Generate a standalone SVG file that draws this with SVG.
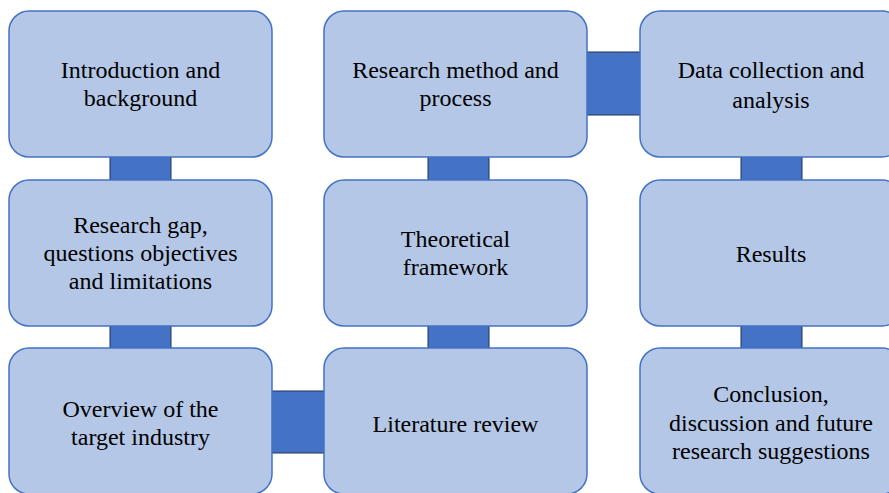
<svg xmlns="http://www.w3.org/2000/svg" width="889" height="493" viewBox="0 0 889 493">
<style>
.box{fill:#B4C7E7;stroke:#4472C4;stroke-width:1.5}
.conn{fill:#4472C4;stroke:#1F3256;stroke-width:1}
text{font-family:"Liberation Serif","Times New Roman",serif;font-size:24px;fill:#000;text-anchor:middle}
</style>
<rect width="889" height="493" fill="#fff"/>
<g id="connectors">
<rect class="conn" x="110" y="150" width="61" height="36"/>
<rect class="conn" x="110" y="320" width="61" height="34"/>
<rect class="conn" x="266" y="391" width="65" height="62"/>
<rect class="conn" x="428" y="320" width="61" height="34"/>
<rect class="conn" x="428" y="150" width="61" height="36"/>
<rect class="conn" x="580" y="52" width="66" height="63"/>
<rect class="conn" x="741" y="150" width="61" height="36"/>
<rect class="conn" x="741" y="320" width="61" height="34"/>
</g>
<g id="n1"><rect class="box" x="9" y="11" width="263" height="146" rx="20"/><text x="140.5" y="78">Introduction and</text><text x="140.5" y="106">background</text></g>
<g id="n2"><rect class="box" x="9" y="180" width="263" height="146" rx="20"/><text x="140.5" y="233">Research gap,</text><text x="140.5" y="261">questions objectives</text><text x="140.5" y="289">and limitations</text></g>
<g id="n3"><rect class="box" x="9" y="348" width="263" height="146" rx="20"/><text x="140.5" y="417">Overview of the</text><text x="140.5" y="445">target industry</text></g>
<g id="n4"><rect class="box" x="324" y="348" width="263" height="146" rx="20"/><text x="455.5" y="432">Literature review</text></g>
<g id="n5"><rect class="box" x="324" y="180" width="263" height="146" rx="20"/><text x="455.5" y="247">Theoretical</text><text x="455.5" y="275">framework</text></g>
<g id="n6"><rect class="box" x="324" y="11" width="263" height="146" rx="20"/><text x="455.5" y="78">Research method and</text><text x="455.5" y="106">process</text></g>
<g id="n7"><rect class="box" x="640" y="11" width="262" height="146" rx="20"/><text x="771" y="78">Data collection and</text><text x="771" y="108">analysis</text></g>
<g id="n8"><rect class="box" x="640" y="180" width="262" height="146" rx="20"/><text x="771" y="262">Results</text></g>
<g id="n9"><rect class="box" x="640" y="348" width="262" height="146" rx="20"/><text x="771" y="402">Conclusion,</text><text x="771" y="431">discussion and future</text><text x="771" y="459">research suggestions</text></g>
</svg>
